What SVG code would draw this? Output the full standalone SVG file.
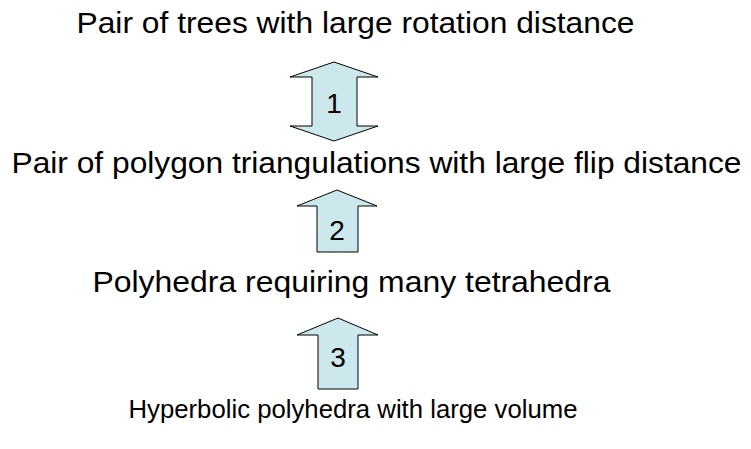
<svg xmlns="http://www.w3.org/2000/svg" width="751" height="449" viewBox="0 0 751 449">
<style>
text{font-family:"Liberation Sans",Arial,sans-serif;fill:#000;}
.lbl{font-size:30px;text-anchor:middle;}
.num{font-size:28px;text-anchor:middle;}
.arr{fill:#CCE8EC;stroke:#000;stroke-width:1;stroke-linejoin:miter;}
</style>
<rect width="751" height="449" fill="#fff"/>
<g id="n1"><text class="lbl" x="355.5" y="33" textLength="558" lengthAdjust="spacingAndGlyphs">Pair of trees with large rotation distance</text></g>
<g id="n2"><text class="lbl" x="376.5" y="173" textLength="730" lengthAdjust="spacingAndGlyphs">Pair of polygon triangulations with large flip distance</text></g>
<g id="n3"><text class="lbl" x="351.5" y="292" textLength="518" lengthAdjust="spacingAndGlyphs">Polyhedra requiring many tetrahedra</text></g>
<g id="n4"><text class="lbl" x="353" y="418" style="font-size:26px" textLength="449" lengthAdjust="spacingAndGlyphs">Hyperbolic polyhedra with large volume</text></g>
<g id="connectors">
<g id="a1"><path class="arr" d="M334,62 L378,77 L357,77 L357,126 L378,126 L334,141 L290,126 L312,126 L312,77 L290,77 Z"/><text class="num" x="334" y="113">1</text></g>
<g id="a2"><path class="arr" d="M337,190 L377,206 L358,206 L358,252 L317,252 L317,206 L297,206 Z"/><text class="num" x="337" y="240">2</text></g>
<g id="a3"><path class="arr" d="M338,318 L378,335 L358,335 L358,389 L318,389 L318,335 L297,335 Z"/><text class="num" x="338" y="367">3</text></g>
</g>
</svg>
